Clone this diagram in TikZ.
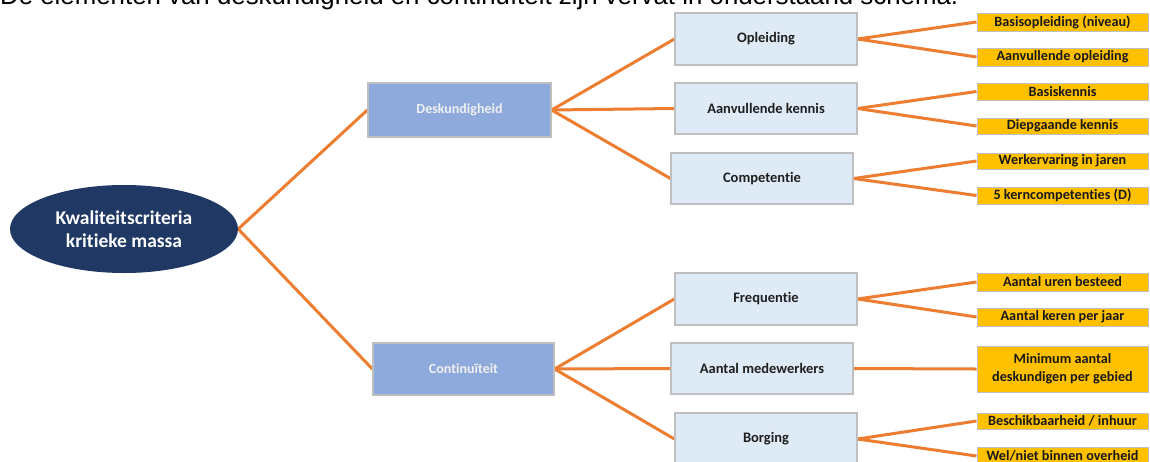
\documentclass[tikz,border=0pt]{standalone}
\usepackage{fontspec}
\usepackage{graphicx}
\setmainfont{Carlito}[Ligatures=NoCommon]
\newfontfamily\arialfont{Liberation Sans}
\usetikzlibrary{shapes.geometric,backgrounds}
\definecolor{navy}{HTML}{1F3864}
\definecolor{midblue}{HTML}{8EA9DB}
\definecolor{lightblue}{HTML}{DEEBF7}
\definecolor{gold}{HTML}{FFC000}
\definecolor{edgegray}{HTML}{BFBFBF}
\definecolor{conn}{HTML}{ED7D31}
\begin{document}
\begin{tikzpicture}[x=1pt,y=-1pt,
  rootnode/.style={ellipse, fill=navy, draw=none, text=white, align=center,
    minimum width=228pt, minimum height=88pt, inner sep=0pt,
    font=\bfseries\fontsize{19.5}{23}\selectfont},
  catbox/.style={rectangle, draw=edgegray, line width=1.2pt, fill=midblue,
    text=white!94!black, inner sep=0pt, minimum width=183pt, minimum height=54pt,
    font=\bfseries\fontsize{14}{16}\selectfont},
  subbox/.style={rectangle, draw=edgegray, line width=1.2pt, fill=lightblue,
    text=black!88, inner sep=0pt, minimum width=182pt, minimum height=52pt,
    font=\bfseries\fontsize{14.5}{17}\selectfont},
  leafbox/.style={rectangle, draw=edgegray, line width=1pt, fill=gold,
    text=black!90, inner sep=0pt, minimum width=171pt, minimum height=18pt, align=center,
    font=\bfseries\fontsize{14.2}{18}\selectfont},
  link/.style={draw=conn, line width=3pt}
]
\useasboundingbox (0,0) rectangle (1150,461);
\clip (0,0) rectangle (1150,461);

\node[anchor=base west, inner sep=0pt] (caption) at (0,4)
  {\resizebox{958pt}{!}{\arialfont De elementen van deskundigheid en continuïteit zijn vervat in onderstaand schema.}};

\node[rootnode] (root) at (124,229) {Kwaliteitscriteria\\kritieke massa};

\node[catbox] (desk) at (459.5,110) {Deskundigheid};
\node[catbox, minimum width=181pt, minimum height=52pt] (cont) at (463.5,369) {Continuïteit};

\node[subbox] (opl) at (766,39) {Opleiding};
\node[subbox, minimum height=51pt] (aank) at (766,108.5) {Aanvullende kennis};
\node[subbox, minimum height=51pt] (comp) at (762,178.5) {Competentie};
\node[subbox] (freq) at (766,299) {Frequentie};
\node[subbox, minimum height=51pt] (amed) at (762,368.5) {Aantal medewerkers};
\node[subbox] (borg) at (766,439) {Borging};

\node[leafbox] (l1) at (1062.5,22) {Basisopleiding (niveau)};
\node[leafbox] (l2) at (1062.5,57) {Aanvullende opleiding};
\node[leafbox, minimum height=17pt] (l3) at (1062.5,91.5) {Basiskennis};
\node[leafbox, minimum height=16pt] (l4) at (1062.5,126) {Diepgaande kennis};
\node[leafbox, minimum height=16pt] (l5) at (1062.5,161) {Werkervaring in jaren};
\node[leafbox, minimum height=17pt] (l6) at (1062.5,195.5) {5 kerncompetenties (D)};
\node[leafbox] (l7) at (1062.5,282) {Aantal uren besteed};
\node[leafbox] (l8) at (1062.5,317) {Aantal keren per jaar};
\node[leafbox, minimum height=46pt] (l9) at (1062.5,369) {Minimum aantal\\deskundigen per gebied};
\node[leafbox, minimum height=16pt] (l10) at (1062.5,421) {Beschikbaarheid / inhuur};
\node[leafbox] (l11) at (1062.5,456) {Wel/niet binnen overheid};

\begin{scope}[on background layer]
\draw[link] (root.east) -- (desk.west);
\draw[link] (root.east) -- (cont.west);
\draw[link] (desk.east) -- (opl.west);
\draw[link] (desk.east) -- (aank.west);
\draw[link] (desk.east) -- (comp.west);
\draw[link] (cont.east) -- (freq.west);
\draw[link] (cont.east) -- (amed.west);
\draw[link] (cont.east) -- (borg.west);
\draw[link] (opl.east) -- (l1.west);
\draw[link] (opl.east) -- (l2.west);
\draw[link] (aank.east) -- (l3.west);
\draw[link] (aank.east) -- (l4.west);
\draw[link] (comp.east) -- (l5.west);
\draw[link] (comp.east) -- (l6.west);
\draw[link] (freq.east) -- (l7.west);
\draw[link] (freq.east) -- (l8.west);
\draw[link] (amed.east) -- (l9.west);
\draw[link] (borg.east) -- (l10.west);
\draw[link] (borg.east) -- (l11.west);
\end{scope}
\end{tikzpicture}
\end{document}
